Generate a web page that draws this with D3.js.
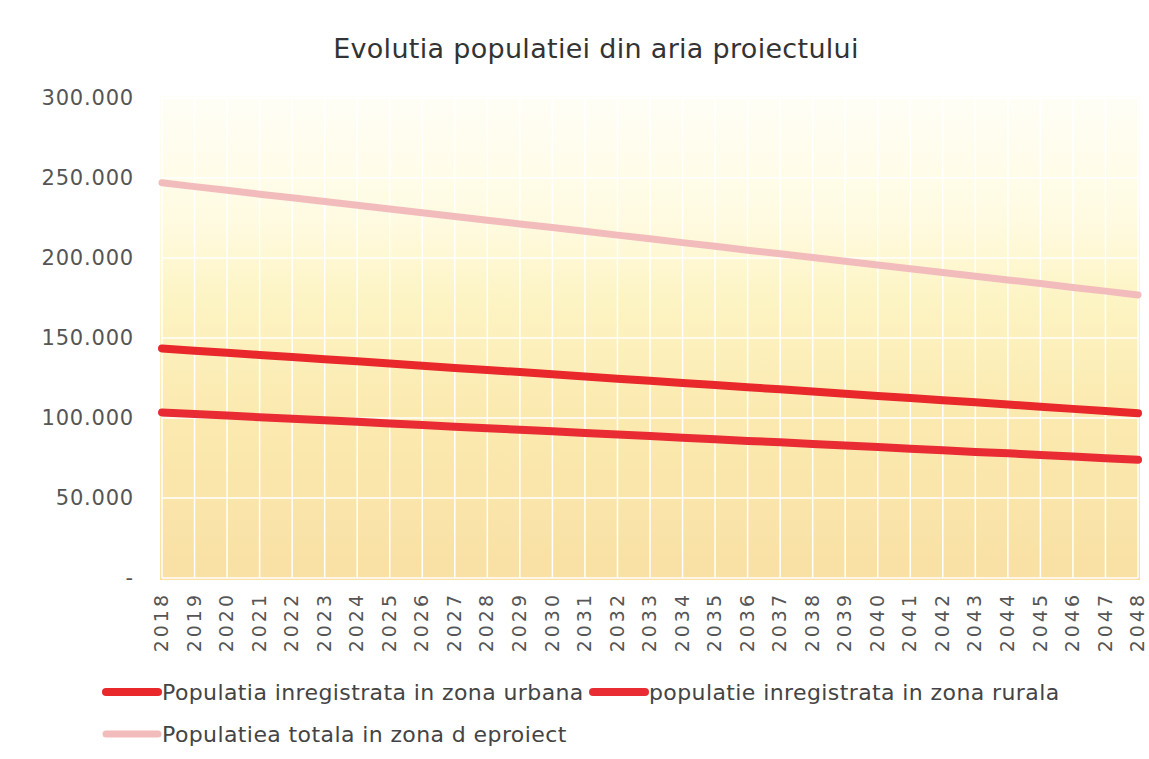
<!DOCTYPE html>
<html>
<head>
<meta charset="utf-8">
<script src="https://cdn.jsdelivr.net/npm/d3@7"></script>
<style>
  body { margin: 0; background: #fff; }
  text { font-family: "DejaVu Sans", Verdana, sans-serif; }
</style>
</head>
<body>
<div id="chart"></div>
<script>
// chart data
var years = d3.range(2018, 2049).map(String)

var urban = [143500, 142100, 140800, 139400, 138100, 136700, 135400, 134000, 132700, 131300,
    130000, 128700, 127300, 126000, 124600, 123300, 121900, 120600, 119200, 117900,
    116500, 115200, 113800, 112500, 111100, 109800, 108400, 107100, 105700, 104400, 103000]

var rural = [103500, 102500, 101500, 100500, 99600, 98600, 97600, 96600, 95600, 94600,
    93600, 92600, 91700, 90700, 89700, 88700, 87700, 86700, 85700, 84800,
    83800, 82800, 81800, 80800, 79800, 78800, 77900, 76900, 75900, 74900, 73900]

var total = [247000, 244600, 242300, 239900, 237700, 235300, 233000, 230600, 228300, 225900,
    223600, 221300, 219000, 216700, 214300, 212000, 209600, 207300, 204900, 202700,
    200300, 198000, 195600, 193300, 190900, 188600, 186300, 184000, 181600, 179300, 176900]

var yTicks = [0, 50000, 100000, 150000, 200000, 250000, 300000]

var seriesNames = ["Populatia inregistrata in zona urbana",
    "populatie inregistrata in zona rurala",
    "Populatiea totala in zona d eproiect"]

var series = [
    { name: seriesNames[0], values: urban, color: "#e8282b", width: 8 },
    { name: seriesNames[1], values: rural, color: "#e92b33", width: 8 },
    { name: seriesNames[2], values: total, color: "#f3bcbc", width: 7 }
]

var svgWidth = 1149
var svgHeight = 759
var margin = { top: 98, left: 162, right: 11, bottom: 181 }
var chartWidth = svgWidth - margin.left - margin.right
var chartHeight = svgHeight - margin.top - margin.bottom

var svg = d3.select("#chart").append("svg")
    .attr("width", svgWidth)
    .attr("height", svgHeight)

// background gradient
var grad = svg.append("defs").append("linearGradient")
    .attr("id", "bg")
    .attr("x1", 0).attr("y1", 0).attr("x2", 0).attr("y2", 1)
grad.append("stop").attr("offset", "0%").attr("stop-color", "#fffef6")
grad.append("stop").attr("offset", "25%").attr("stop-color", "#fffbe2")
grad.append("stop").attr("offset", "42%").attr("stop-color", "#fdf4c4")
grad.append("stop").attr("offset", "65%").attr("stop-color", "#fbeab0")
grad.append("stop").attr("offset", "100%").attr("stop-color", "#f9e0a4")

// title
svg.append("text")
    .attr("x", 596)
    .attr("y", 58)
    .attr("text-anchor", "middle")
    .attr("font-size", 27)
    .attr("letter-spacing", 0.3)
    .attr("fill", "#333")
    .text("Evolutia populatiei din aria proiectului")

var chartGroup = svg.append("g")
    .attr("transform", `translate(${margin.left}, ${margin.top})`)

var xScale = d3.scalePoint()
    .domain(years)
    .range([0, chartWidth])

var yScale = d3.scaleLinear()
    .domain([0, 300000])
    .range([chartHeight, 0])

chartGroup.append("rect")
    .attr("x", -2)
    .attr("y", -2)
    .attr("width", chartWidth + 4)
    .attr("height", chartHeight + 4)
    .attr("fill", "url(#bg)")

// white grid
chartGroup.append("g")
    .selectAll("line")
    .data(years)
    .enter()
    .append("line")
    .attr("x1", d => xScale(d))
    .attr("x2", d => xScale(d))
    .attr("y1", 0)
    .attr("y2", chartHeight)
    .attr("stroke", "#fff")
    .attr("stroke-width", 1.5)

chartGroup.append("g")
    .selectAll("line")
    .data(yTicks)
    .enter()
    .append("line")
    .attr("x1", 0)
    .attr("x2", chartWidth)
    .attr("y1", d => yScale(d))
    .attr("y2", d => yScale(d))
    .attr("stroke", "#fff")
    .attr("stroke-width", 1.5)

// y axis
var fmt = d => d === 0 ? "-" : d3.format(",")(d).replace(/,/g, ".")
var yAxis = d3.axisLeft(yScale).tickValues(yTicks).tickFormat(fmt).tickSize(0).tickPadding(28)
var yG = chartGroup.append("g").call(yAxis)
yG.select(".domain").remove()
yG.selectAll("text")
    .attr("font-size", 21)
    .attr("font-family", "DejaVu Sans, sans-serif")
    .attr("letter-spacing", 0.8)
    .attr("fill", "#555")

// x axis
var xAxis = d3.axisBottom(xScale).tickSize(0).tickPadding(0)
var xG = chartGroup.append("g")
    .attr("transform", `translate(0, ${chartHeight})`)
    .call(xAxis)
xG.select(".domain").remove()
xG.selectAll("text")
    .attr("font-size", 19)
    .attr("font-family", "DejaVu Sans, sans-serif")
    .attr("letter-spacing", 3)
    .attr("fill", "#555")
    .attr("text-anchor", "end")
    .attr("dy", "0.35em")
    .attr("transform", "translate(-1, 14) rotate(-90)")
    .attr("y", 0)

// lines
var line = d3.line()
    .x((d, i) => xScale(years[i]))
    .y(d => yScale(d))

chartGroup.append("g")
    .selectAll("path")
    .data(series)
    .enter()
    .append("path")
    .attr("d", d => line(d.values))
    .attr("fill", "none")
    .attr("stroke", d => d.color)
    .attr("stroke-width", d => d.width)
    .attr("stroke-linecap", "round")

// legend
var legendPos = [[103, 692], [590, 692], [103, 734]]
var legend = svg.append("g")
    .selectAll("g")
    .data(series)
    .enter()
    .append("g")
    .attr("transform", (d, i) => `translate(${legendPos[i][0]}, ${legendPos[i][1]})`)

legend.append("line")
    .attr("x1", 3)
    .attr("x2", 55)
    .attr("y1", 0)
    .attr("y2", 0)
    .attr("stroke", d => d.color)
    .attr("stroke-width", d => d.width)
    .attr("stroke-linecap", "round")

legend.append("text")
    .attr("x", 59)
    .attr("y", 0)
    .attr("dy", "0.35em")
    .attr("font-size", 22)
    .attr("letter-spacing", 0.4)
    .attr("font-family", "DejaVu Sans Condensed, DejaVu Sans, sans-serif")
    .attr("fill", "#444")
    .text(d => d.name)
</script>
</body>
</html>
